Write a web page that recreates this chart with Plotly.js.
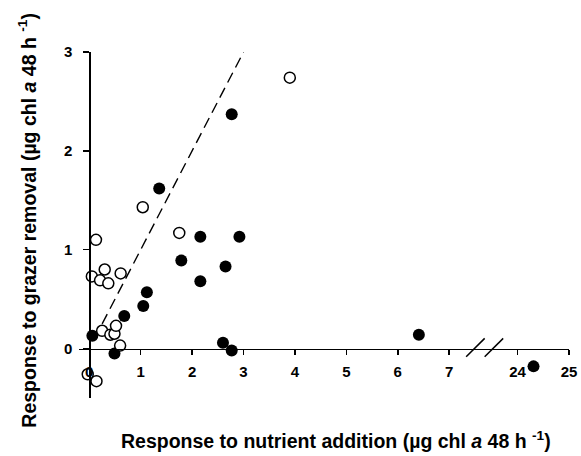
<!DOCTYPE html>
<html>
<head>
<meta charset="utf-8">
<script src="https://cdn.plot.ly/plotly-3.0.1.min.js"></script>
<style>html,body{margin:0;padding:0;background:#fff;}#chart{width:581px;height:456px;}</style>
</head>
<body>
<div id="chart"></div>
<script>
// Filled circles
const filledX = [0.06, 0.49, 0.68, 1.05, 1.12, 1.36, 1.79, 2.16, 2.16, 2.60, 2.65, 2.77, 2.77, 2.92, 6.41, 24.31];
const filledY = [0.13, -0.05, 0.33, 0.43, 0.57, 1.62, 0.89, 1.13, 0.68, 0.06, 0.83, 2.37, -0.02, 1.13, 0.14, -0.18];
// Open circles
const openX = [-0.03, 0.14, 0.05, 0.21, 0.30, 0.37, 0.61, 0.13, 0.25, 0.41, 0.49, 0.52, 0.60, 1.04, 1.75, 3.90];
const openY = [-0.26, -0.33, 0.73, 0.69, 0.80, 0.66, 0.76, 1.10, 0.18, 0.14, 0.15, 0.23, 0.03, 1.43, 1.17, 2.74];
// 1:1 line
const oneToOne = [0.25, 3];
// Axis ticks
const xTickValues = [0, 1, 2, 3, 4, 5, 6, 7, 24, 25];
const xTickLabels = ['0', '1', '2', '3', '4', '5', '6', '7', '24', '25'];
const yTickValues = [0, 1, 2, 3];
const yTickLabels = ['0', '1', '2', '3'];

// Broken x axis: values >= 24 are shifted left next to the 7.5 break
const BREAK_AT = 24, BREAK_DISPLAY = 8.33;
const bx = v => (v >= BREAK_AT ? v - BREAK_AT + BREAK_DISPLAY : v);

const font = 'Liberation Sans, Arial, sans-serif';

const traces = [
  {x: oneToOne, y: oneToOne, mode: 'lines', line: {color: '#000', width: 1.4, dash: '11px,6px'}, hoverinfo: 'skip'},
  {x: filledX.map(bx), y: filledY, mode: 'markers', cliponaxis: false,
   marker: {size: 12, color: '#000', line: {width: 0}}},
  {x: openX.map(bx), y: openY, mode: 'markers', cliponaxis: false,
   marker: {size: 11, color: '#fff', line: {width: 1.5, color: '#000'}}}
];

const yMin = -0.5, yMax = 3, xMin = -0.2, xMax = 9.33;

const layout = {
  width: 581, height: 456,
  margin: {l: 79, r: 12, t: 52, b: 58},
  paper_bgcolor: '#fff', plot_bgcolor: '#fff',
  showlegend: false,
  xaxis: {
    range: [xMin, xMax], anchor: 'free', position: (0 - yMin) / (yMax - yMin),
    showgrid: false, zeroline: false, showline: true, linecolor: '#000', linewidth: 1.5,
    tickmode: 'array', tickvals: xTickValues.map(bx), ticktext: xTickLabels,
    ticks: 'outside', ticklen: 5, tickwidth: 1.5, tickcolor: '#000',
    tickfont: {family: font, size: 15, color: '#000', weight: 'bold'}, ticklabelstandoff: 4
  },
  yaxis: {
    range: [yMin, yMax], anchor: 'free', position: (0 - xMin) / (xMax - xMin),
    showgrid: false, zeroline: false, showline: true, linecolor: '#000', linewidth: 1.5,
    tickmode: 'array', tickvals: yTickValues, ticktext: yTickLabels,
    ticks: 'outside', ticklen: 6, tickwidth: 1.5, tickcolor: '#000',
    tickfont: {family: font, size: 15, color: '#000', weight: 'bold'}, ticklabelstandoff: 8
  },
  shapes: [
    {type: 'line', xref: 'x', yref: 'y', x0: 7.33, y0: -0.083, x1: 7.69, y1: 0.103, line: {color: '#000', width: 1.5}},
    {type: 'line', xref: 'x', yref: 'y', x0: 7.69, y0: -0.083, x1: 8.05, y1: 0.103, line: {color: '#000', width: 1.5}}
  ],
  annotations: [
    {text: '<b>1:1</b>', x: 3.37, y: 3.26, xref: 'x', yref: 'y', showarrow: false,
     font: {family: font, size: 19, color: '#000'}},
    {text: '<b>Response to nutrient addition (µg chl <i>a</i> 48 h <sup>-1</sup>)</b>',
     xref: 'paper', yref: 'paper', x: 0.524, y: -0.121, xanchor: 'center', yanchor: 'middle', showarrow: false,
     font: {family: font, size: 19.5, color: '#000'}},
    {text: '<b>Response to grazer removal (µg chl <i>a</i> 48 h <sup>-1</sup>)</b>',
     xref: 'paper', yref: 'paper', x: -0.105, y: 0.514, xanchor: 'center', yanchor: 'middle', textangle: -90, showarrow: false,
     font: {family: font, size: 19.5, color: '#000'}}
  ]
};

Plotly.newPlot('chart', traces, layout, {displayModeBar: false, staticPlot: true});
</script>
</body>
</html>
